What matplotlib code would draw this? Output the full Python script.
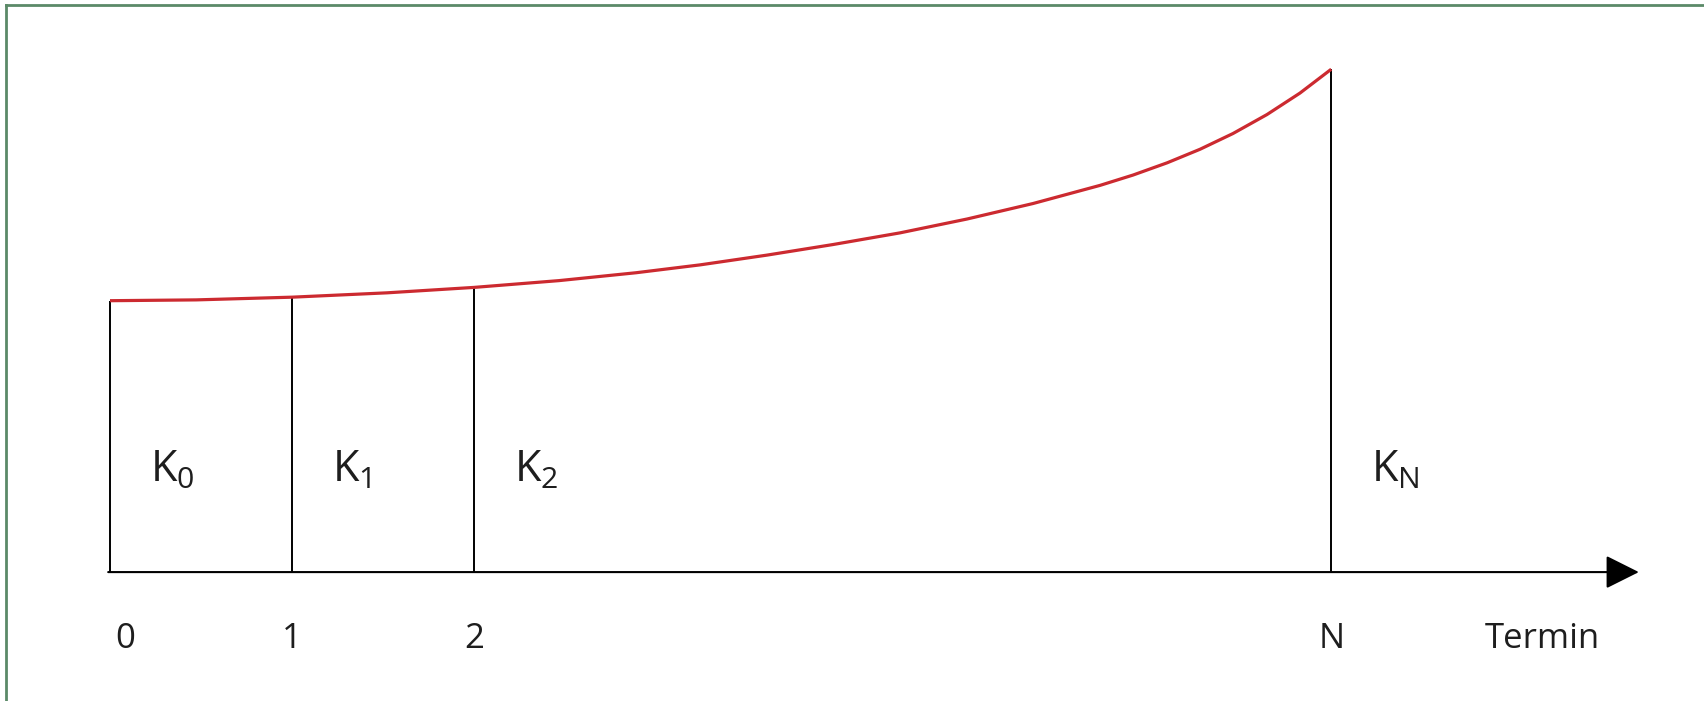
import matplotlib

matplotlib.use("Agg")
import matplotlib.pyplot as plt
from matplotlib.lines import Line2D

# Kapitalverlauf K_t über die Termine (K_0 = 100)
t_curve = [0, 0.473, 1, 1.522, 2, 2.467, 2.890, 3.242, 3.610, 3.973, 4.341,
           4.709, 5.071, 5.440, 5.621, 5.808, 5.989, 6.170, 6.357, 6.538, 6.71]
k_curve = [100.0, 100.3, 101.3, 102.9, 104.9, 107.4, 110.3, 113.2, 116.8, 120.7, 125.0,
           130.1, 135.8, 142.5, 146.3, 150.8, 155.8, 161.6, 168.6, 176.5, 185.3]

periods = [0, 1, 2, 6.71]
period_labels = ["0", "1", "2", "N"]
k_labels = [r"$\mathrm{K}_{0}$", r"$\mathrm{K}_{1}$", r"$\mathrm{K}_{2}$", r"$\mathrm{K}_{\mathrm{N}}$"]
axis_label = "Termin"

plt.rcParams["font.family"] = ["Open Sans", "DejaVu Sans"]
plt.rcParams["mathtext.fontset"] = "custom"
plt.rcParams["mathtext.rm"] = "Open Sans"
plt.rcParams["mathtext.it"] = "Open Sans:italic"

TEXT = "#1e1e1e"
RED = "#cc2a30"
GREEN = "#5b8a68"

fig = plt.figure(figsize=(17.04, 7.01), dpi=100)
ax = fig.add_axes([0, 0, 1, 1])
ax.set_xlim(-0.6044, 8.758)
ax.set_ylim(-47.5, 210.8)
ax.axis("off")

# Kurve
ax.plot(t_curve, k_curve, color=RED, lw=2.3, solid_capstyle="butt",
        solid_joinstyle="round", zorder=3)

# senkrechte Linien an den Terminen
idx = [t_curve.index(p) for p in periods]
ax.vlines(periods, 0, [k_curve[i] for i in idx], color="black", lw=1.4, zorder=2)

# Zeitachse mit Pfeil
ax.annotate("", xy=(8.4, 0), xytext=(-0.01, 0),
            arrowprops=dict(arrowstyle="-|>,head_length=0.4,head_width=0.2",
                            mutation_scale=52, lw=1.5, color="black",
                            shrinkA=0, shrinkB=0))

# Beschriftungen K_t
for p, lab in zip(periods, k_labels):
    ax.text(p + 0.22, 33.2, lab, fontsize=31, color=TEXT, ha="left", va="baseline")

# Terminbeschriftung
for p, lab in zip(periods, period_labels):
    ha = "left" if p == 0 else "center"
    ax.text(p + (0.03 if p == 0 else 0), -28, lab, fontsize=25, color=TEXT,
            ha=ha, va="baseline")
ax.text(7.87, -28, axis_label, fontsize=25, color=TEXT, ha="center", va="baseline")

# Rahmen links und oben
fig.add_artist(Line2D([0.0035, 0.0035], [0, 0.9929], transform=fig.transFigure,
                      color=GREEN, lw=2))
fig.add_artist(Line2D([0.0035, 1], [0.9929, 0.9929], transform=fig.transFigure,
                      color=GREEN, lw=2))

fig.savefig("out.png", dpi=100)
